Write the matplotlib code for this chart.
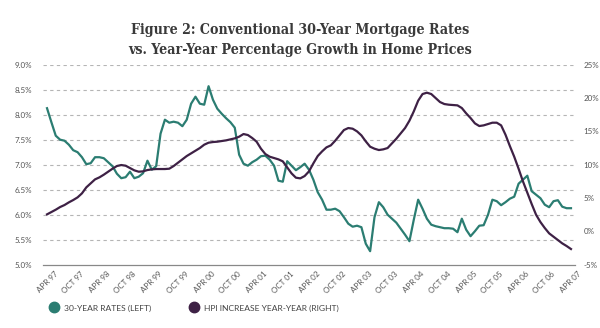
import matplotlib
matplotlib.use("Agg")
import matplotlib.pyplot as plt
from matplotlib.lines import Line2D
from matplotlib.transforms import ScaledTranslation
import numpy as np

# Monthly data, Apr 1997 .. Apr 2007 (121 months)
rates_30yr = [
    8.13, 7.85, 7.58, 7.50, 7.48, 7.40, 7.29, 7.25, 7.15, 7.01,
    7.03, 7.15, 7.15, 7.13, 7.05, 6.97, 6.82, 6.73, 6.75, 6.86,
    6.73, 6.76, 6.83, 7.08, 6.90, 6.97, 7.62, 7.90, 7.84, 7.86,
    7.84, 7.77, 7.90, 8.22, 8.36, 8.22, 8.20, 8.57, 8.30, 8.12,
    8.02, 7.93, 7.85, 7.74, 7.20, 7.02, 6.98, 7.05, 7.10, 7.17,
    7.18, 7.10, 6.98, 6.68, 6.66, 7.07, 6.98, 6.89, 6.95, 7.02,
    6.90, 6.70, 6.45, 6.30, 6.10, 6.10, 6.12, 6.07, 5.95, 5.82,
    5.76, 5.78, 5.75, 5.42, 5.27, 5.95, 6.25, 6.15, 6.00, 5.92,
    5.84, 5.72, 5.60, 5.47, 5.90, 6.30, 6.12, 5.92, 5.80, 5.77,
    5.75, 5.73, 5.73, 5.72, 5.65, 5.92, 5.70, 5.57, 5.67, 5.78,
    5.79, 6.00, 6.30, 6.27, 6.19, 6.25, 6.32, 6.36, 6.62, 6.70,
    6.78, 6.47, 6.40, 6.33, 6.20, 6.15, 6.27, 6.29, 6.16, 6.13,
    6.13,
]
hpi_growth = [
    2.55, 2.90, 3.25, 3.65, 3.95, 4.35, 4.70, 5.10, 5.70, 6.60,
    7.20, 7.80, 8.10, 8.50, 8.95, 9.40, 9.80, 9.95, 9.85, 9.50,
    9.15, 8.95, 9.00, 9.20, 9.30, 9.35, 9.35, 9.35, 9.40, 9.80,
    10.30, 10.80, 11.30, 11.70, 12.10, 12.50, 13.00, 13.30, 13.40, 13.45,
    13.55, 13.65, 13.80, 13.95, 14.20, 14.60, 14.45, 14.00, 13.45, 12.40,
    11.60, 11.20, 11.00, 10.80, 10.50, 9.60, 8.70, 8.05, 7.95, 8.30,
    9.00, 10.20, 11.30, 12.00, 12.60, 12.90, 13.60, 14.40, 15.20, 15.50,
    15.40, 15.00, 14.40, 13.50, 12.70, 12.40, 12.20, 12.30, 12.50, 13.20,
    13.90, 14.70, 15.50, 16.60, 18.00, 19.60, 20.60, 20.80, 20.60, 20.00,
    19.40, 19.10, 19.00, 18.95, 18.90, 18.50, 17.70, 17.00, 16.20, 15.80,
    15.90, 16.10, 16.30, 16.30, 15.90, 14.50, 12.80, 11.20, 9.40, 7.50,
    5.80, 4.10, 2.50, 1.40, 0.50, -0.30, -0.80, -1.30, -1.80, -2.20,
    -2.65,
]
tick_labels = ["APR 97", "OCT 97", "APR 98", "OCT 98", "APR 99", "OCT 99",
               "APR 00", "OCT 00", "APR 01", "OCT 01", "APR 02", "OCT 02",
               "APR 03", "OCT 03", "APR 04", "OCT 04", "APR 05", "OCT 05",
               "APR 06", "OCT 06", "APR 07"]
left_ticks = [5.0, 5.5, 6.0, 6.5, 7.0, 7.5, 8.0, 8.5, 9.0]
right_ticks = [-5, 0, 5, 10, 15, 20, 25]
series_names = ["30-YEAR RATES (LEFT)", "HPI INCREASE YEAR-YEAR (RIGHT)"]

TEAL = "#2b7d72"
PURPLE = "#3e2145"
GRID = "#b5b5b5"
TXT = "#555555"

plt.rcParams['font.family'] = ['Lato', 'DejaVu Sans']

fig = plt.figure(figsize=(6, 3.28), dpi=100)
W, H = 600, 328
ax = fig.add_axes([43 / W, 1 - 264.7 / H, (575 - 43) / W, 200 / H])
ax2 = ax.twinx()

months = np.arange(len(rates_30yr))
ax.plot(months, rates_30yr, color=TEAL, lw=1.6, solid_joinstyle='round', zorder=3)
ax2.plot(months, hpi_growth, color=PURPLE, lw=1.6, solid_joinstyle='round', zorder=3)

ax.set_xlim(-0.92, 120.92)
ax.set_ylim(5.0, 9.0)
ax2.set_ylim(-5, 25)

ax.set_yticks(left_ticks)
ax.set_yticklabels([f"{v:.1f}%" for v in left_ticks])
ax2.set_yticks(right_ticks)
ax2.set_yticklabels([f"{v}%" for v in right_ticks])

for v in left_ticks[1:]:
    ax.axhline(v, color=GRID, lw=0.8, ls=(0, (3, 3)), zorder=1)

ax.set_xticks(np.arange(0, 121, 6))
ax.set_xticklabels(tick_labels)

for a in (ax, ax2):
    for s in a.spines.values():
        s.set_visible(False)
    a.tick_params(length=0, labelsize=5.8, labelcolor=TXT)
ax.spines['bottom'].set_visible(True)
ax.spines['bottom'].set_color("#888888")
ax.spines['bottom'].set_linewidth(0.9)
ax.tick_params(axis='y', pad=8)
ax2.tick_params(axis='y', pad=6)
ax.tick_params(axis='x', pad=4)

offset = ScaledTranslation(7 / 100, 0, fig.dpi_scale_trans)
for lab in ax.get_xticklabels():
    lab.set_rotation(45)
    lab.set_ha('right')
    lab.set_va('top')
    lab.set_rotation_mode('anchor')
    lab.set_transform(lab.get_transform() + offset)

title_kw = dict(ha='center', va='center', fontsize=10.2, fontweight='bold',
                color="#3a3a3a", family=['DejaVu Serif'], fontstretch='condensed')
fig.text(0.5, 1 - 30 / H, "Figure 2: Conventional 30-Year Mortgage Rates", **title_kw)
fig.text(0.5, 1 - 50 / H, "vs. Year-Year Percentage Growth in Home Prices", **title_kw)

handles = [Line2D([], [], ls='none', marker='o', ms=7.5, color=TEAL),
           Line2D([], [], ls='none', marker='o', ms=7.5, color=PURPLE)]
leg = fig.legend(handles, series_names, loc='center left',
                 bbox_to_anchor=(46 / W, 1 - 308 / H), ncol=2, frameon=False,
                 fontsize=6.1, handletextpad=0.6, columnspacing=4.6,
                 handlelength=1.0, borderpad=0)
for t in leg.get_texts():
    t.set_color("#444444")

fig.savefig("out.png", dpi=100, facecolor='white')
